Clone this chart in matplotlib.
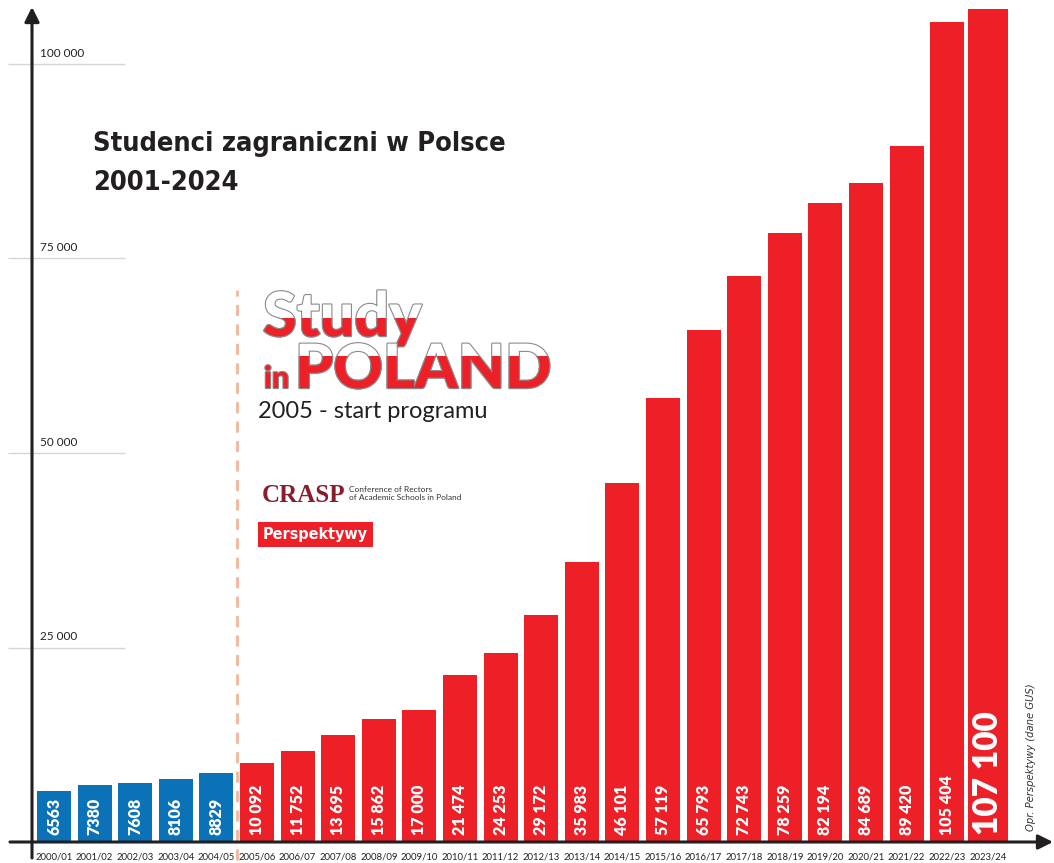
import numpy as np
import matplotlib.pyplot as plt
import matplotlib.patheffects as pe
from matplotlib import font_manager as fm
from matplotlib.patches import Rectangle

# Data (GUS via Perspektywy)
years = ['2000/01', '2001/02', '2002/03', '2003/04', '2004/05', '2005/06',
         '2006/07', '2007/08', '2008/09', '2009/10', '2010/11', '2011/12',
         '2012/13', '2013/14', '2014/15', '2015/16', '2016/17', '2017/18',
         '2018/19', '2019/20', '2020/21', '2021/22', '2022/23', '2023/24']
students = [6563, 7380, 7608, 8106, 8829, 10092, 11752, 13695, 15862, 17000,
            21474, 24253, 29172, 35983, 46101, 57119, 65793, 72743, 78259,
            82194, 84689, 89420, 105404, 107100]
grid_values = [25000, 50000, 75000, 100000]
n_before = 5  # seasons before the "Study in Poland" programme

BLUE = '#0b72b7'
RED = '#ed1f27'
INK = '#231f20'

W, H = 1054, 863
X0, DX = 54, 40.6        # pixel centre of first bar, pixel step
BASE, PPK = 842, 7.78    # pixel row of zero, pixels per 1000


def px_x(p):
    return (p - X0) / DX


def px_y(p):
    return (BASE - p) / PPK * 1000


def fx(p):
    return p / W


def fy(p):
    return 1 - p / H


def narrow_font(bold=True, italic=False):
    # look for any installed condensed face, else fall back to Roboto
    cands = []
    for f in fm.fontManager.ttflist:
        name = (f.fname + ' ' + f.name).lower()
        if 'condensed' in name or 'narrow' in name or f.stretch in ('condensed', 'semi-condensed'):
            if 'extra' in name or 'ultra' in name or 'semi' in name:
                continue
            is_bold = f.weight in (700, 'bold')
            is_it = f.style in ('italic', 'oblique')
            if is_bold == bold and is_it == italic:
                cands.append(f.fname)
    if cands:
        return fm.FontProperties(fname=sorted(cands)[0]), True
    return fm.FontProperties(family='Roboto', weight='bold' if bold else 'normal',
                             style='italic' if italic else 'normal'), False


fig = plt.figure(figsize=(W / 100, H / 100), dpi=100)
ax = fig.add_axes([0, 0, 1, 1])
ax.axis('off')
ax.set_xlim(px_x(0), px_x(W))
ax.set_ylim(px_y(H), px_y(0))

x = np.arange(len(students))
colors = [BLUE] * n_before + [RED] * (len(students) - n_before)
widths = np.full(len(students), 0.84)
widths[-1] = 0.98
ax.bar(x, students, width=widths, color=colors, zorder=2)

# bar values
for i, v in enumerate(students):
    lab = f'{v:,}'.replace(',', ' ') if v >= 10000 else str(v)
    big = i == len(students) - 1
    ax.text(i, px_y(835), lab, rotation=90, rotation_mode='anchor',
            ha='left', va='center', color='white', fontweight='heavy',
            family='Lato', fontsize=24 if big else 11.5, zorder=3)

# year labels
for i, y in enumerate(years):
    ax.text(i, px_y(857), y, ha='center', va='center', fontsize=6.8,
            family='Lato', color=INK)

# short gridlines with labels
ax.hlines(grid_values, px_x(8), px_x(125), color='#d6d6d6', lw=1, zorder=1)
for g in grid_values:
    ax.text(px_x(40), g + 1400, f'{g:,}'.replace(',', ' '), fontsize=8.5,
            family='Lato', color=INK, va='center', ha='left')

# axes with arrows
ax.annotate('', xy=(px_x(32), px_y(7)), xytext=(px_x(32), px_y(858)),
            arrowprops=dict(arrowstyle='-|>', lw=2.2, color=INK,
                            mutation_scale=22, shrinkA=0, shrinkB=0), zorder=4)
ax.annotate('', xy=(px_x(1053), 0), xytext=(px_x(10), 0),
            arrowprops=dict(arrowstyle='-|>', lw=2.2, color=INK,
                            mutation_scale=22, shrinkA=0, shrinkB=0), zorder=4)

# programme start marker
ax.vlines(n_before - 0.5, px_y(860), px_y(290), color='#f5b59b', lw=2,
          linestyles=(0, (4, 3)), zorder=1)

# title, one text per line
title_fp, is_narrow = narrow_font(bold=True)
title_fp.set_size(19.5)
fig.text(fx(93), fy(151), 'Studenci zagraniczni w Polsce',
         fontproperties=title_fp, color=INK, ha='left', va='baseline')
fig.text(fx(93), fy(190), '2001-2024',
         fontproperties=title_fp, color=INK, ha='left', va='baseline')

# source
src_fp, src_narrow = narrow_font(bold=False, italic=True)
src_fp.set_size(8)
ax.text(px_x(1031), px_y(831), 'Opr. Perspektywy (dane GUS)', rotation=90,
        rotation_mode='anchor', ha='left', va='center',
        fontproperties=src_fp, color='#333333')

# "Study in POLAND" logo: white top, red bottom, grey outline
outline = [pe.Stroke(linewidth=1.6, foreground='#8a8a8a'), pe.Normal()]
for txt, xp, yp, size, cut in [('Study', 263, 336, 44, 318),
                               ('POLAND', 295, 388, 44, 356)]:
    fig.text(fx(xp), fy(yp), txt, family='Lato', fontweight='black',
             fontsize=size, color='white', path_effects=outline)
    t = fig.text(fx(xp), fy(yp), txt, family='Lato', fontweight='black',
                 fontsize=size, color=RED, path_effects=outline)
    clip = Rectangle((0, 0), 1, fy(cut), transform=fig.transFigure)
    t.set_clip_path(clip)
    t.set_clip_on(True)
fig.text(fx(264), fy(388), 'in', family='Lato', fontweight='black',
         fontsize=22, color=RED, path_effects=outline)
fig.text(fx(258), fy(418), '2005 - start programu', family='Lato',
         fontsize=17, color=INK)

# CRASP
fig.text(fx(262), fy(502), 'CRASP', family='Liberation Serif',
         fontweight='bold', fontsize=18, color='#8a1c2c')
fig.text(fx(349), fy(500), 'Conference of Rectors\nof Academic Schools in Poland',
         family='Lato', fontsize=6, color='#333333', linespacing=1.2)

# Perspektywy
pers_fp, _ = narrow_font(bold=True)
pers_fp.set_size(11.5)
fig.text(fx(263), fy(539), 'Perspektywy', fontproperties=pers_fp,
         color='white',
         bbox=dict(boxstyle='square,pad=0.3', fc=RED, ec='none'))

fig.savefig('out.png', dpi=100)
